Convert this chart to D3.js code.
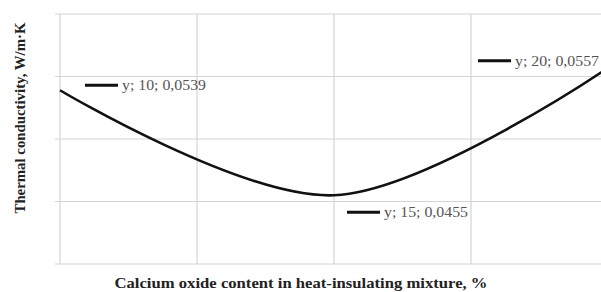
<!DOCTYPE html>
<html>
<head>
<meta charset="utf-8">
<script src="https://cdn.jsdelivr.net/npm/d3@7/dist/d3.min.js"></script>
<style>
  body { margin: 0; background: #fff; }
  svg { display: block; }
</style>
</head>
<body>
<div id="chart"></div>
<script>
// CaO content, %
const content = [10, 15, 20];
// thermal conductivity, W/m·K
const conductivity = [0.0539, 0.0455, 0.0557];
const labels = ['y; 10; 0,0539', 'y; 15; 0,0455', 'y; 20; 0,0557'];
const xTicks = [10, 12.5, 15, 17.5, 20];
const yTicks = [0.04, 0.045, 0.05, 0.055, 0.06];

const width = 601;
const height = 292;
const margin = { top: 14, right: -7, bottom: 28, left: 60 };
const serif = '"Liberation Serif", "Times New Roman", serif';

const svg = d3.select('#chart')
  .append('svg')
  .attr('width', width)
  .attr('height', height);

const x = d3.scaleLinear()
  .domain([10, 20])
  .range([margin.left, width - margin.right]);

const y = d3.scaleLinear()
  .domain([0.04, 0.06])
  .range([height - margin.bottom, margin.top]);

// Gridlines
svg.append('g')
  .selectAll('line')
  .data(yTicks)
  .join('line')
  .attr('x1', margin.left - 5)
  .attr('x2', width - margin.right)
  .attr('y1', d => y(d))
  .attr('y2', d => y(d))
  .attr('stroke', '#d4d4d4')
  .attr('stroke-width', 1.2);

svg.append('g')
  .selectAll('line')
  .data(xTicks)
  .join('line')
  .attr('x1', d => x(d))
  .attr('x2', d => x(d))
  .attr('y1', y(0.06))
  .attr('y2', y(0.04))
  .attr('stroke', '#d4d4d4')
  .attr('stroke-width', 1.2);

// Smoothed line
const line = d3.line()
  .x(d => x(d[0]))
  .y(d => y(d[1]))
  .curve(d3.curveCardinal.tension(0));

svg.append('path')
  .datum(d3.zip(content, conductivity))
  .attr('fill', 'none')
  .attr('stroke', '#111')
  .attr('stroke-width', 2.6)
  .attr('d', line);

// Data labels with legend keys (offsets in px from the point)
const labelOffsets = [[25, -5], [13, 17], [-130, -7]];

const lbl = svg.append('g')
  .selectAll('g')
  .data(d3.range(content.length))
  .join('g')
  .attr('transform', i => `translate(${x(content[i]) + labelOffsets[i][0]},${y(conductivity[i]) + labelOffsets[i][1]})`);

lbl.append('line')
  .attr('x1', 0)
  .attr('x2', 33)
  .attr('y1', 0)
  .attr('y2', 0)
  .attr('stroke', '#111')
  .attr('stroke-width', 3);

lbl.append('text')
  .attr('x', 37)
  .attr('y', 5)
  .attr('font-family', serif)
  .attr('font-size', 14.5)
  .attr('fill', '#555')
  .attr('textLength', 84)
  .attr('lengthAdjust', 'spacingAndGlyphs')
  .text(i => labels[i]);

// Axis titles
svg.append('text')
  .attr('x', 301)
  .attr('y', 288)
  .attr('text-anchor', 'middle')
  .attr('font-family', serif)
  .attr('font-weight', 'bold')
  .attr('font-size', 14.5)
  .attr('fill', '#222')
  .attr('textLength', 373)
  .attr('lengthAdjust', 'spacingAndGlyphs')
  .text('Calcium oxide content in heat-insulating mixture, %');

svg.append('text')
  .attr('transform', 'translate(25,118) rotate(-90)')
  .attr('text-anchor', 'middle')
  .attr('font-family', serif)
  .attr('font-weight', 'bold')
  .attr('font-size', 14)
  .attr('fill', '#222')
  .attr('textLength', 191)
  .attr('lengthAdjust', 'spacingAndGlyphs')
  .text('Thermal conductivity, W/m·K');
</script>
</body>
</html>
